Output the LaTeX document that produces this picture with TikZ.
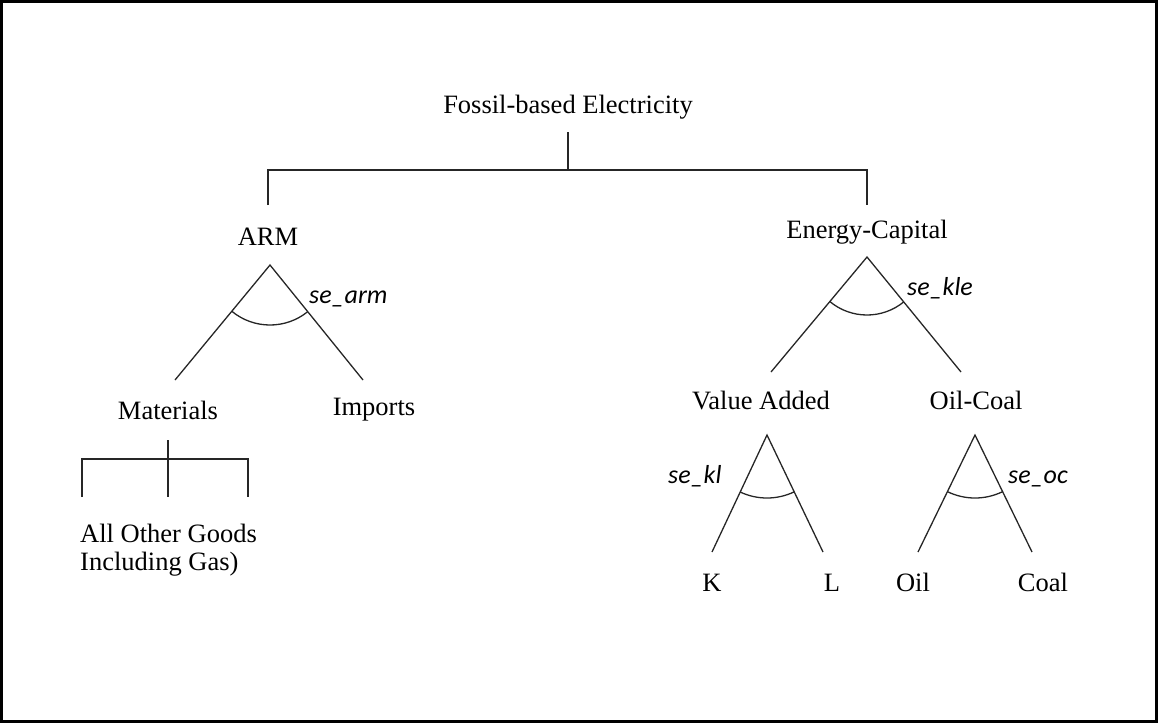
\documentclass[tikz,border=0pt]{standalone}
\usepackage{fontspec}
\setmainfont{Liberation Serif}
\newfontfamily\lblfont{Carlito}
\tikzset{
  lbl/.style={inner sep=0pt, anchor=base, font=\fontsize{26.5}{30}\selectfont},
  elas/.style={inner sep=0pt, anchor=base west, font=\lblfont\itshape\fontsize{26}{30}\selectfont},
  ln/.style={line width=1.3pt, black!85},
}
\begin{document}
\begin{tikzpicture}[x=1pt,y=1pt]
\useasboundingbox (0,0) rectangle (1158,-724);
\draw[line width=3pt] (1.5,-1.5) rectangle (1156,-721);

% labels
\node[lbl] (fe) at (568,-113) {Fossil-based Electricity};
\node[lbl] (arm) at (268,-245) {ARM};
\node[lbl] (ec) at (867,-238) {Energy-Capital};
\node[lbl] (mat) at (168,-419) {Materials};
\node[lbl] (imp) at (374,-415) {Imports};
\node[lbl] (va) at (761,-409) {Value Added};
\node[lbl] (oc) at (976,-409) {Oil-Coal};
\node[lbl] (k) at (712,-591) {K};
\node[lbl] (l) at (832,-591) {L};
\node[lbl] (oil) at (913,-591) {Oil};
\node[lbl] (coal) at (1043,-591) {Coal};
\node[lbl, anchor=base west, align=left] (aog) at (80,-542) {All Other Goods};
\node[lbl, anchor=base west] (gas) at (80,-570) {Including Gas)};

% elasticity labels
\node[elas] (searm) at (309,-303) {se\_arm};
\node[elas] (sekle) at (907,-295) {se\_kle};
\node[elas] (sekl) at (668,-483) {se\_kl};
\node[elas] (seoc) at (1008,-483) {se\_oc};

% top bracket
\coordinate (t0) at (568,-132);
\coordinate (t1) at (568,-170);
\coordinate (tl) at (268,-170);
\coordinate (tr) at (867,-170);
\coordinate (tla) at (268,-205);
\coordinate (tra) at (867,-205);
\draw[ln] (t0) -- (t1);
\draw[ln] (tla) -- (tl) -- (tr) -- (tra);

% materials bracket
\coordinate (m0) at (168,-440);
\coordinate (m1) at (168,-459);
\coordinate (m2) at (168,-497);
\coordinate (ml) at (82,-459);
\coordinate (mr) at (248,-459);
\coordinate (mld) at (82,-497);
\coordinate (mrd) at (248,-497);
\draw[ln] (m0) -- (m2);
\draw[ln] (mld) -- (ml) -- (mr) -- (mrd);

% ARM nest
\coordinate (a0) at (270,-265);
\coordinate (a1) at (175,-380);
\coordinate (a2) at (363,-380);
\draw[ln] (a1) -- (a0) -- (a2);
\draw[ln] (a0) ++(230.4:60pt) arc[start angle=230.4, end angle=308.9, radius=60pt];

% Energy-Capital nest
\coordinate (e0) at (867,-257);
\coordinate (e1) at (771,-372);
\coordinate (e2) at (961,-372);
\draw[ln] (e1) -- (e0) -- (e2);
\draw[ln] (e0) ++(230.1:58pt) arc[start angle=230.1, end angle=309.4, radius=58pt];

% Value Added nest
\coordinate (v0) at (767,-435);
\coordinate (v1) at (712,-552);
\coordinate (v2) at (823,-552);
\draw[ln] (v1) -- (v0) -- (v2);
\draw[ln] (v0) ++(244.8:63pt) arc[start angle=244.8, end angle=295.6, radius=63pt];

% Oil-Coal nest
\coordinate (o0) at (975,-435);
\coordinate (o1) at (918,-552);
\coordinate (o2) at (1032,-552);
\draw[ln] (o1) -- (o0) -- (o2);
\draw[ln] (o0) ++(244.0:63pt) arc[start angle=244.0, end angle=296.0, radius=63pt];
\end{tikzpicture}
\end{document}
